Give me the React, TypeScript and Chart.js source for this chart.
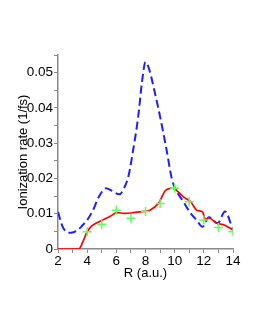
import React, { useEffect, useRef } from "react";
import { Chart, registerables } from "chart.js";

Chart.register(...registerables);

const blueR = [2, 2.3, 2.6, 2.9, 3.3, 3.7, 4.0, 4.4, 4.8, 5.3, 5.7, 6.2, 6.5, 6.85, 7.15, 7.5, 7.75, 8.0, 8.25, 8.55, 9.0, 9.45, 9.8, 10.0, 10.6, 11.1, 11.5, 11.9, 12.35, 12.95, 13.45, 14];
const blueRate = [0.0105, 0.0065, 0.0048, 0.0046, 0.0052, 0.0068, 0.0082, 0.011, 0.0148, 0.0172, 0.0165, 0.0155, 0.017, 0.021, 0.028, 0.0375, 0.047, 0.053, 0.051, 0.046, 0.0375, 0.028, 0.02, 0.0175, 0.0134, 0.0101, 0.0082, 0.0063, 0.009, 0.0073, 0.0106, 0.0054];

const redR = [2, 3, 3.45, 3.7, 4.0, 4.3, 4.6, 5.2, 5.6, 6.0, 6.5, 7, 7.6, 8.3, 8.9, 9.35, 9.7, 10.0, 10.3, 10.6, 11.1, 11.5, 11.9, 12.1, 12.35, 12.9, 13.4, 14];
const redRate = [0, 0, 0, 0.002, 0.0049, 0.0065, 0.0073, 0.0085, 0.0093, 0.0103, 0.0101, 0.0102, 0.0105, 0.011, 0.013, 0.0165, 0.0172, 0.017, 0.016, 0.0148, 0.0134, 0.011, 0.0106, 0.0084, 0.0089, 0.0073, 0.0068, 0.0054];

const greenR = [4, 5, 6, 7, 8, 9, 10, 11, 12, 13, 14];
const greenRate = [0.0049, 0.007, 0.011, 0.0087, 0.0106, 0.0129, 0.0172, 0.0134, 0.0082, 0.0061, 0.0049];

const yMajorTicks = [0, 0.01, 0.02, 0.03, 0.04, 0.05];
const xMajorTicks = [2, 4, 6, 8, 10, 12, 14];

const toPts = (xs: number[], ys: number[]) => xs.map((x, i) => ({ x, y: ys[i] }));

export default function App() {
  const ref = useRef<HTMLCanvasElement | null>(null);
  useEffect(() => {
    if (!ref.current) return;
    const font = { family: "'Liberation Sans', Arial, sans-serif", size: 13.5 };
    const titleFont = { family: "'Liberation Sans', Arial, sans-serif", size: 13 };
    const axisColor = "#8a8a8a";
    const chart = new Chart(ref.current, {
      type: "line",
      data: {
        datasets: [
          {
            data: toPts(greenR, greenRate),
            showLine: false,
            pointStyle: "cross",
            pointRadius: 4.5,
            pointBorderColor: "#5cff5c",
            pointBorderWidth: 1.5,
            borderColor: "#5cff5c",
            order: 0,
          },
          {
            data: toPts(redR, redRate),
            borderColor: "#ff0000",
            borderWidth: 1.7,
            pointRadius: 0,
            tension: 0.25,
            order: 1,
          },
          {
            data: toPts(blueR, blueRate),
            borderColor: "#1e1eff",
            borderWidth: 2,
            borderDash: [8, 4],
            pointRadius: 0,
            cubicInterpolationMode: "monotone",
            order: 2,
          },
        ],
      },
      options: {
        animation: false,
        responsive: false,
        layout: { padding: { left: 0, top: 55, right: 25, bottom: 52 } },
        plugins: { legend: { display: false }, tooltip: { enabled: false } },
        scales: {
          x: {
            type: "linear",
            min: 2,
            max: 14,
            afterFit: (s: any) => { s.height = 32; },
            border: { color: axisColor, width: 1.5 },
            grid: { drawOnChartArea: false, tickLength: 4, color: axisColor },
            ticks: {
              stepSize: 1,
              autoSkip: false,
              maxRotation: 0,
              padding: 0,
              color: "#000",
              font,
              callback: (v: any) => (xMajorTicks.includes(Number(v)) ? String(v) : ""),
            },
            title: { display: true, text: "R (a.u.)", color: "#000", font: titleFont, padding: 0 },
          },
          y: {
            min: 0,
            max: 0.055,
            afterFit: (s: any) => { s.width = 58; },
            border: { color: axisColor, width: 1.5 },
            grid: { drawOnChartArea: false, tickLength: 4, color: axisColor },
            ticks: {
              stepSize: 0.005,
              autoSkip: false,
              padding: 1,
              color: "#000",
              font,
              callback: (v: any) => {
                const n = Number(v);
                const m = yMajorTicks.find((t) => Math.abs(t - n) < 1e-9);
                return m === undefined ? "" : m === 0 ? "0" : m.toFixed(2);
              },
            },
            title: { display: true, text: "Ionization rate (1/fs)", color: "#000", font: titleFont, padding: { top: 16, bottom: 0 } },
          },
        },
      },
    } as any);
    return () => chart.destroy();
  }, []);
  return (
    <div style={{ position: "fixed", left: 0, top: 0, width: 258, height: 333, background: "#fff" }}>
      <canvas ref={ref} width={258} height={333} style={{ width: 258, height: 333, display: "block" }} />
    </div>
  );
}
